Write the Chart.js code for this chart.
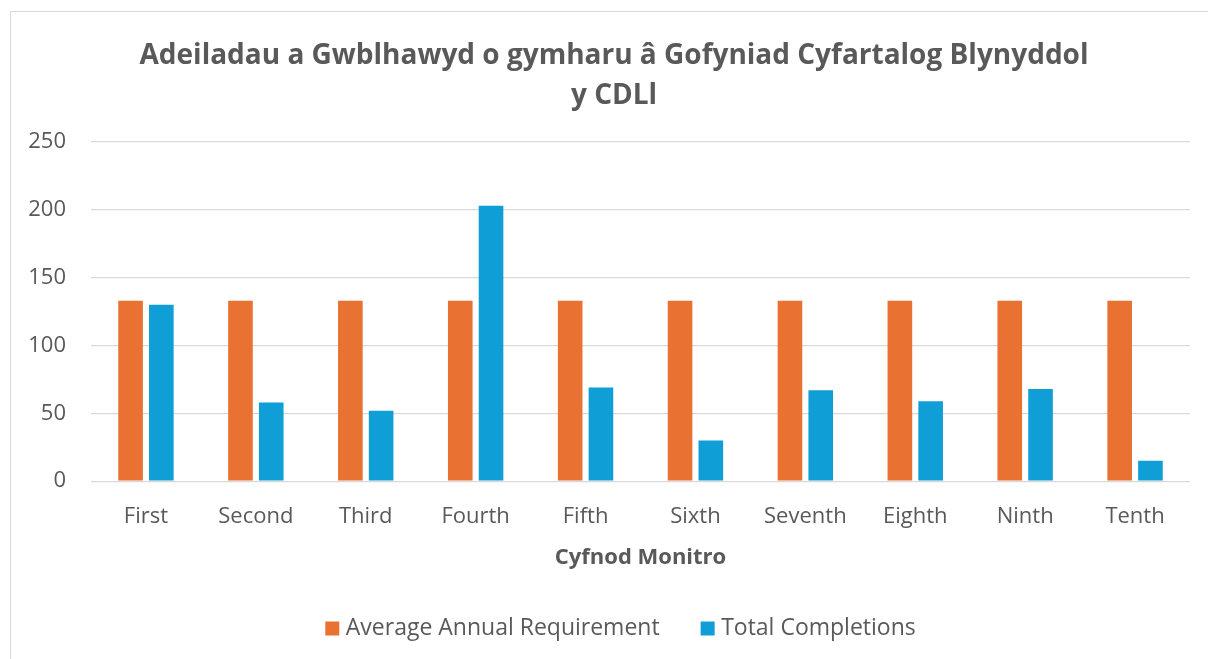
<!DOCTYPE html>
<html>
<head>
<meta charset="utf-8">
<script src="https://cdn.jsdelivr.net/npm/chart.js@4.4.1/dist/chart.umd.min.js"></script>
<style>
  html, body { margin: 0; padding: 0; background: #fff; }
  #frame {
    position: absolute; left: 10px; top: 11px;
    width: 1300px; height: 800px;
    border: 1px solid #d9d9d9;
  }
  #wrap { position: absolute; left: 0; top: 0; width: 1208px; height: 659px; }
</style>
</head>
<body>
<div id="frame"></div>
<div id="wrap"><canvas id="chart" width="1208" height="659"></canvas></div>
<script>
const categories = ['First', 'Second', 'Third', 'Fourth', 'Fifth', 'Sixth', 'Seventh', 'Eighth', 'Ninth', 'Tenth']
const averageRequirement = [133, 133, 133, 133, 133, 133, 133, 133, 133, 133]
const totalCompletions = [130, 58, 52, 203, 69, 30, 67, 59, 68, 15]
const yTicks = [0, 50, 100, 150, 200, 250]

const textColor = '#595959'
const gridColor = '#d9d9d9'
const fontFamily = '"Open Sans", "Noto Sans", sans-serif'

Chart.defaults.font.family = fontFamily
Chart.defaults.color = textColor

// title and legend are centred on the whole frame, not on the plot
const shiftBoxes = {
  id: 'shiftBoxes',
  afterLayout (chart) {
    chart.titleBlock.left = 38
    chart.titleBlock.right = 1190
    chart.legend.left = 38
    chart.legend.right = 1208
  }
}

new Chart(document.getElementById('chart').getContext('2d'), {
  type: 'bar',
  data: {
    labels: categories,
    datasets: [
      {
        label: 'Average Annual Requirement',
        data: averageRequirement,
        backgroundColor: '#e97132'
      },
      {
        label: 'Total Completions',
        data: totalCompletions,
        backgroundColor: '#0f9ed5'
      }
    ]
  },
  plugins: [shiftBoxes],
  options: {
    responsive: false,
    animation: false,
    datasets: {
      bar: { categoryPercentage: 0.56, barPercentage: 0.8 }
    },
    layout: { padding: { left: 0, right: 18, top: 0, bottom: 9 } },
    plugins: {
      title: {
        display: true,
        text: ['Adeiladau a Gwblhawyd o gymharu â Gofyniad Cyfartalog Blynyddol', 'y CDLl'],
        color: textColor,
        font: { size: 28, weight: 'bold', lineHeight: 1.43 },
        padding: { top: 36, bottom: 26 }
      },
      legend: {
        position: 'bottom',
        labels: {
          color: textColor,
          font: { size: 23 },
          usePointStyle: true,
          pointStyle: 'rect',
          boxWidth: 4,
          boxHeight: 14,
          padding: 46
        }
      },
      tooltip: { enabled: false }
    },
    scales: {
      x: {
        grid: { display: false },
        border: { display: false },
        ticks: { color: textColor, font: { size: 22 }, padding: 14 },
        title: {
          display: true,
          text: 'Cyfnod Monitro',
          color: textColor,
          font: { size: 22, weight: 'bold' },
          padding: { top: 1, bottom: 0 }
        }
      },
      y: {
        min: 0,
        max: 250,
        afterBuildTicks: scale => {
          scale.ticks = yTicks.map(v => ({ value: v }))
        },
        afterFit: scale => { scale.width = 91 },
        grid: { color: gridColor, lineWidth: 1.3, drawTicks: false },
        border: { display: false },
        ticks: { color: textColor, font: { size: 22 }, padding: 25 }
      }
    }
  }
})
</script>
</body>
</html>
